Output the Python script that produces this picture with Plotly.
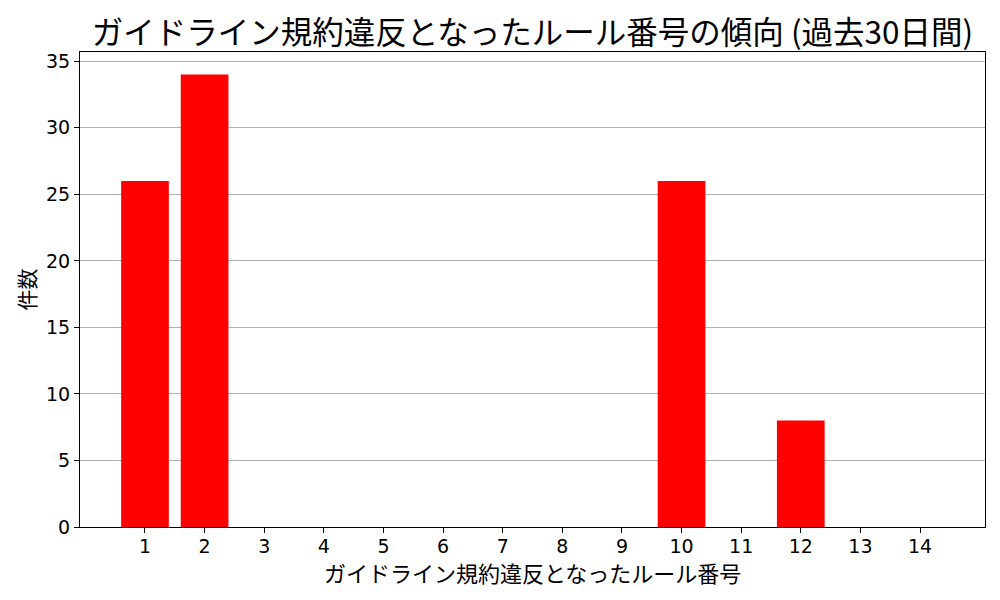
import plotly.graph_objects as go

rules = list(range(1, 15))
counts = [26, 34, 0, 0, 0, 0, 0, 0, 0, 26, 0, 8, 0, 0]
tick_labels = [str(r) for r in rules]
y_ticks = [0, 5, 10, 15, 20, 25, 30, 35]

title = "ガイドライン規約違反となったルール番号の傾向 (過去30日間)"
x_title = "ガイドライン規約違反となったルール番号"
y_title = "件数"

FONT = "Noto Sans CJK JP, DejaVu Sans, sans-serif"
TICKFONT = "DejaVu Sans, Noto Sans CJK JP, sans-serif"

fig = go.Figure(go.Bar(x=rules, y=counts, width=0.8,
                       marker=dict(color="#ff0000", line=dict(width=0))))

fig.update_layout(
    width=985, height=600,
    margin=dict(l=72, r=8, t=44, b=81, autoexpand=False),
    paper_bgcolor="white", plot_bgcolor="white",
    font=dict(family=FONT, color="black", size=16),
    title=dict(text=title, xref="paper", x=0.5, xanchor="center", y=1 - 25 / 600, yanchor="middle",
               font=dict(size=31.5, family=FONT, color="black")),
    showlegend=False,
    annotations=[
        dict(text=x_title, xref="paper", yref="paper", x=0.5, y=0, yanchor="middle",
             xanchor="center", yshift=-45, showarrow=False,
             font=dict(size=22, family=FONT, color="black")),
        dict(text=y_title, xref="paper", yref="paper", x=0, y=0.5, xanchor="center",
             yanchor="middle", xshift=-55, textangle=-90, showarrow=False,
             font=dict(size=21, family=FONT, color="black")),
    ],
)
fig.update_xaxes(
    range=[-0.09, 15.09], tickmode="array", tickvals=rules, ticktext=tick_labels,
    showline=True, linecolor="black", linewidth=1, mirror=True,
    ticks="outside", ticklen=5, tickcolor="black", showgrid=False, zeroline=False,
    ticklabelstandoff=-3,
    tickfont=dict(size=19, family=TICKFONT, color="black"), automargin=False,
)
fig.update_yaxes(
    range=[0, 35.7], tickmode="array", tickvals=y_ticks,
    showline=True, linecolor="black", linewidth=1, mirror=True,
    ticks="outside", ticklen=5, tickcolor="black",
    showgrid=True, gridcolor="#b0b0b0", gridwidth=1, zeroline=False,
    tickfont=dict(size=19, family=TICKFONT, color="black"), automargin=False,
)

fig.write_html("out.html")
